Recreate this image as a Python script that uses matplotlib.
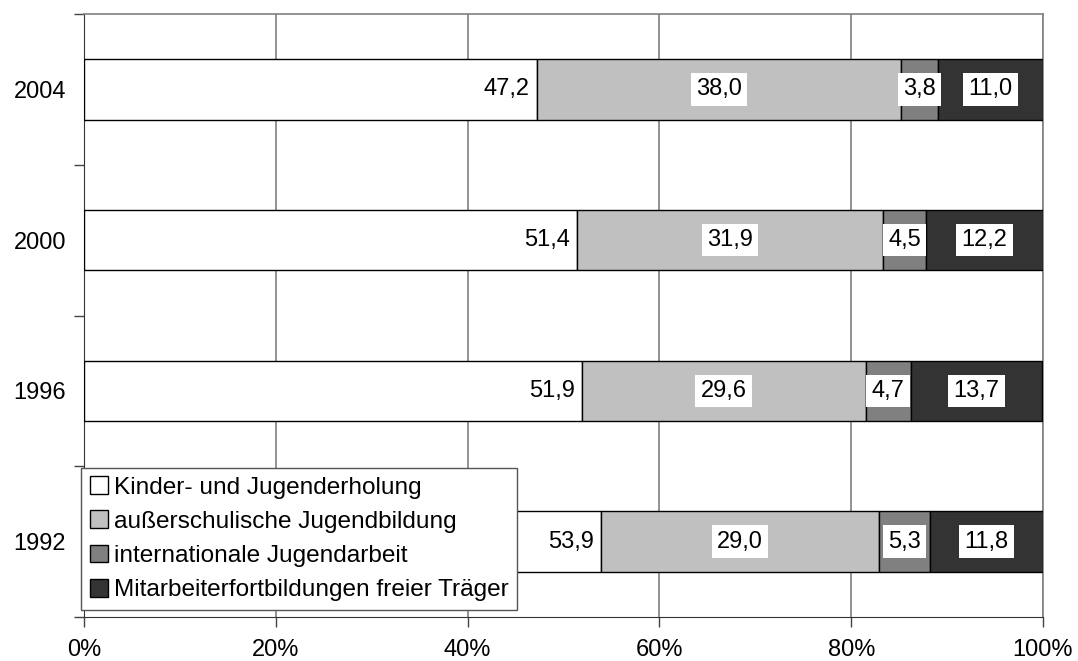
import numpy as np
import matplotlib
matplotlib.use('Agg')
import matplotlib.pyplot as plt
from matplotlib.ticker import FixedLocator, PercentFormatter

plt.rcParams['font.family'] = ['Liberation Sans', 'DejaVu Sans']

years = ['1992', '1996', '2000', '2004']
series = ['Kinder- und Jugenderholung', 'außerschulische Jugendbildung',
          'internationale Jugendarbeit', 'Mitarbeiterfortbildungen freier Träger']
erholung = [53.9, 51.9, 51.4, 47.2]
bildung = [29.0, 29.6, 31.9, 38.0]
international = [5.3, 4.7, 4.5, 3.8]
fortbildung = [11.8, 13.7, 12.2, 11.0]
colors = ['#FFFFFF', '#C0C0C0', '#808080', '#333333']

fig = plt.figure(figsize=(10.78, 6.61), dpi=100)
ax = fig.add_axes([84/1078, 44/661, 959/1078, 603/661])

y = np.arange(len(years))
left = np.zeros(len(years))
for i, vals in enumerate([erholung, bildung, international, fortbildung]):
    vals = np.array(vals)
    ax.barh(y, vals, left=left, height=0.4, color=colors[i],
            edgecolor='black', linewidth=1, label=series[i], zorder=3)
    for j, v in enumerate(vals):
        txt = ('%.1f' % v).replace('.', ',')
        if i == 0:
            # first segment: label sits at the inner end
            ax.text(left[j] + v - 0.7, y[j], txt, ha='right', va='center',
                    fontsize=17, zorder=5)
        else:
            ax.text(left[j] + v / 2, y[j], txt, ha='center', va='center',
                    fontsize=17, zorder=5,
                    bbox=dict(boxstyle='square,pad=0.22', fc='white', ec='none'))
    left += vals

ax.set_xlim(0, 100)
ax.set_ylim(-0.5, 3.5)
ax.set_yticks(y)
ax.set_yticklabels(years, fontsize=17)
ax.yaxis.set_minor_locator(FixedLocator(np.arange(-0.5, 4, 1)))
ax.tick_params(axis='y', which='major', length=0, pad=13)
ax.tick_params(axis='y', which='minor', length=7, width=1, color='#444444')
ax.set_xticks(np.arange(0, 101, 20))
ax.xaxis.set_major_formatter(PercentFormatter(decimals=0))
ax.tick_params(axis='x', length=7, width=1, color='#444444', labelsize=17, pad=9)
ax.grid(axis='x', color='#808080', linewidth=1.2, zorder=0)

for side in ['top', 'right']:
    ax.spines[side].set_color('#808080')
    ax.spines[side].set_linewidth(1.2)
ax.spines['left'].set_color('#333333')
ax.spines['bottom'].set_color('#333333')

leg = ax.legend(loc='lower left', bbox_to_anchor=(-0.003, 0.012), fontsize=17.6,
                frameon=True, fancybox=False, edgecolor='#555555', framealpha=1,
                handlelength=0.75, handleheight=0.75, handletextpad=0.25,
                borderpad=0.35, labelspacing=0.48, borderaxespad=0)
leg.get_frame().set_linewidth(1)
leg.set_zorder(10)

fig.savefig('out.png', dpi=100)
